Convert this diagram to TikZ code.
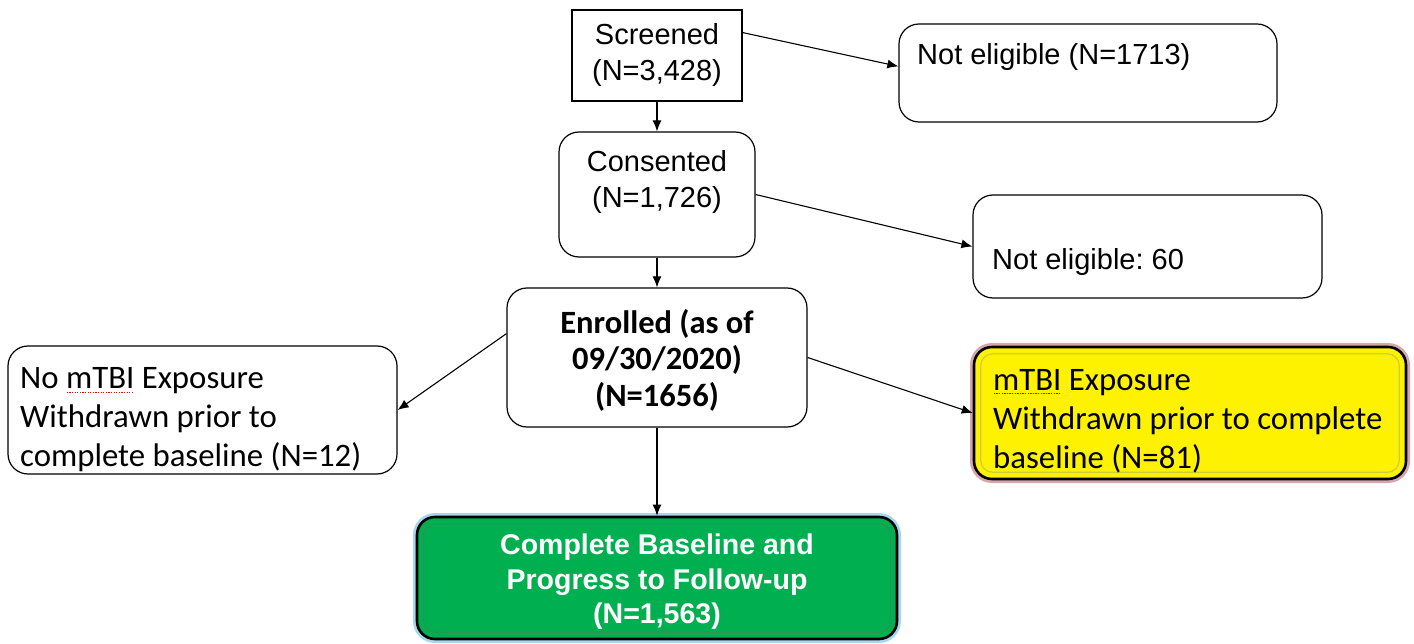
\documentclass[tikz,border=0pt]{standalone}
\usepackage{fontspec}
\setmainfont{Liberation Sans}
\newfontfamily\calibri{Carlito}
\usetikzlibrary{arrows.meta}
\frenchspacing
\definecolor{pinkglow}{RGB}{215,165,175}
\definecolor{blueglow}{RGB}{165,215,240}
\definecolor{offgreen}{RGB}{0,176,80}
\definecolor{ingreen}{RGB}{40,150,80}
\definecolor{inyellow}{RGB}{205,205,60}
\newcommand\spellerr[1]{\setbox0=\hbox{#1}\rlap{\color{red}\raisebox{-4pt}{\hbox to \wd0{\leaders\hbox to 2.6pt{\hss\rule{1.3pt}{0.8pt}\hss}\hfill}}}\copy0\relax}
\begin{document}
\begin{tikzpicture}[x=1pt,y=-1pt,
  box/.style={draw=black, line width=1.2pt, fill=white, inner sep=0pt},
  rbox/.style={box, rounded corners=20pt},
  arr/.style={-{Latex[length=11pt,width=9pt]}, line width=1.1pt},
  ar/.style={font=\fontsize{29}{36}\selectfont, align=center, inner sep=0pt},
  cal/.style={font=\calibri\fontsize{32.8}{39}\selectfont, align=left, inner sep=0pt},
  calb/.style={font=\calibri\bfseries\fontsize{32.5}{36.5}\selectfont, align=center, inner sep=0pt},
  grtxt/.style={font=\bfseries\fontsize{28.5}{34.5}\selectfont, align=center, inner sep=0pt, text=white},
  fancy/.style={draw=black, line width=2.6pt, rounded corners=18pt, inner sep=0pt}]
\useasboundingbox (0,0) rectangle (1414,644);

% boxes
\node[box, minimum width=170pt, minimum height=91pt] (scr) at (657,55.5) {};
\node[ar] (scrt) at (657,55) {Screened\\(N=3,428)};

\node[rbox, minimum width=378pt, minimum height=98pt] (ne1) at (1088,73) {};
\node[ar, anchor=west] (ne1t) at (917,57) {Not eligible (N=1713)};

\node[rbox, minimum width=196pt, minimum height=125pt] (cons) at (657,194.5) {};
\node[ar] (const) at (657,182) {Consented\\(N=1,726)};

\node[rbox, minimum width=349pt, minimum height=103pt] (ne60) at (1147.5,246.5) {};
\node[ar, anchor=west] (ne60t) at (992,262) {Not eligible: 60};

\node[rbox, minimum width=300pt, minimum height=139pt] (enr) at (657,357.5) {};
\node[calb] (enrt) at (657,360) {Enrolled (as of\\09/30/2020)\\(N=1656)};

\node[rbox, minimum width=389pt, minimum height=128pt] (nom) at (202.5,410) {};
\node[cal, anchor=west] (nomt) at (20,420) {No \spellerr{mTBI} Exposure\\Withdrawn prior to\\complete baseline (N=12)};

\node[fancy, fill=yellow, minimum width=432pt, minimum height=132pt,
      preaction={draw=pinkglow, line width=8pt}] (mt) at (1190,413) {};
\draw[inyellow, line width=1.2pt, rounded corners=12pt]
  ([shift={(8,8)}]mt.north west) rectangle ([shift={(-8,-8)}]mt.south east);
\node[cal, anchor=west] (mtt) at (993,421) {\spellerr{mTBI} Exposure\\Withdrawn prior to complete\\baseline (N=81)};

\node[fancy, fill=offgreen, minimum width=480pt, minimum height=122pt,
      preaction={draw=blueglow, line width=8pt}] (grn) at (657,578) {};
\draw[ingreen, line width=1.2pt, rounded corners=12pt]
  ([shift={(8,8)}]grn.north west) rectangle ([shift={(-8,-8)}]grn.south east);
\node[grtxt] (grnt) at (657,582) {Complete Baseline and\\Progress to Follow-up\\(N=1,563)};

% connectors
\draw[arr] (scr.15) -- (ne1.178);
\draw[arr] (scr.south) -- (cons.north);
\draw[arr] (cons.east) -- (ne60.west);
\draw[arr] (cons.south) -- (enr.north);
\draw[arr] (enr.171) -- (nom.east);
\draw[arr] (enr.east) -- (mt.west);
\draw[arr] (enr.south) -- (grn.north);
\end{tikzpicture}
\end{document}
